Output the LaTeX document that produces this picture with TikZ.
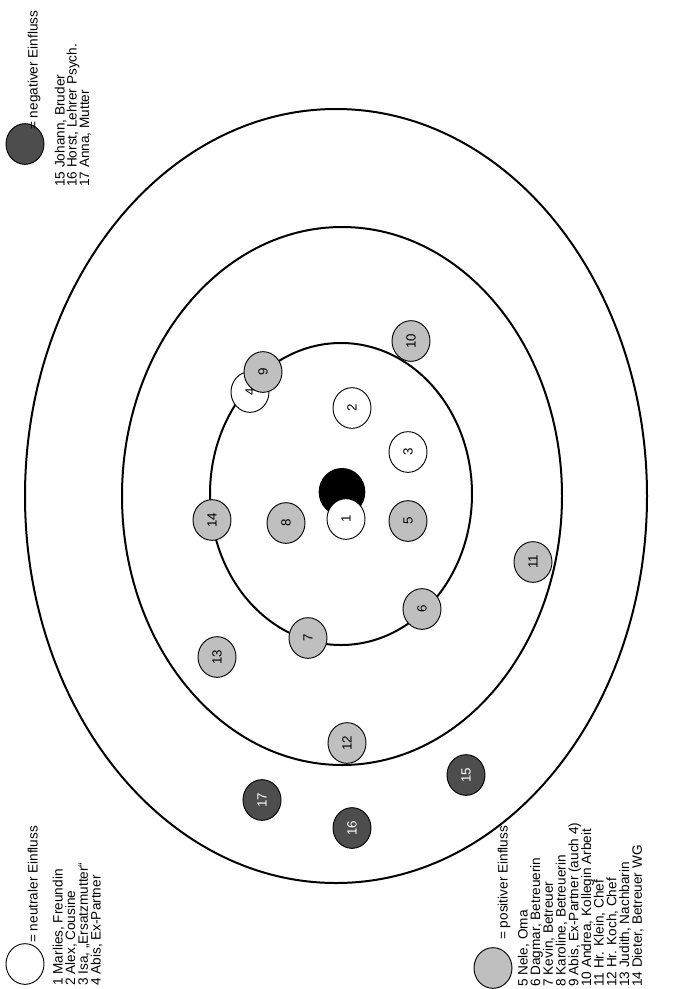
\documentclass[tikz,border=0pt]{standalone}
\usepackage{fontspec}
\setmainfont{Liberation Sans}
\usetikzlibrary{shapes.geometric}

\definecolor{posgray}{HTML}{BFBFBF}
\definecolor{neggray}{HTML}{4D4D4D}

\tikzset{
  person/.style={draw,ellipse,rotate=90,minimum width=30.5pt,minimum height=28.5pt,inner sep=0pt,line width=0.7pt,font=\fontsize{10}{12}\selectfont},
  neutral/.style={person,fill=white},
  positive/.style={person,fill=posgray},
  negative/.style={person,fill=neggray,text=white},
  ring/.style={line width=1.5pt},
  legtext/.style={rotate=90,anchor=base west,inner sep=0pt,font=\fontsize{10.2}{12}\selectfont}
}

\begin{document}
\begin{tikzpicture}[x=0.75pt,y=-0.75pt]
        \useasboundingbox (0,0) rectangle (673,989);
        % Kreise
        \draw[ring] (336,496) ellipse [x radius=311,y radius=387];
        \draw[ring] (342,496) ellipse [x radius=220,y radius=269];
        \draw[ring] (341,494) ellipse [x radius=131,y radius=151];
        % Ich
        \node[fill=black,ellipse,minimum width=35pt,minimum height=36pt,inner sep=0pt] (ego) at (342,492) {};
        % Personen
        \node[neutral] (p1) at (346,519) {1};
        \node[neutral] (p2) at (352,408) {2};
        \node[neutral] (p3) at (408,452) {3};
        \node[neutral] (p4) at (250,392) {4};
        \node[positive] (p5) at (408,521) {5};
        \node[positive] (p6) at (422,609) {6};
        \node[positive] (p7) at (308,638) {7};
        \node[positive] (p8) at (286,523) {8};
        \node[positive] (p9) at (263,372) {9};
        \node[positive] (p10) at (411,341) {10};
        \node[positive] (p11) at (533,562) {11};
        \node[positive] (p12) at (347,743) {12};
        \node[positive] (p13) at (217,657) {13};
        \node[positive] (p14) at (212,520) {14};
        \node[negative] (p15) at (466,775) {15};
        \node[negative] (p16) at (352,828) {16};
        \node[negative] (p17) at (262,800) {17};
        % Legende negativ
        \node[negative] (legneg) at (25,144) {};
        \node[legtext] (negtitle) at (37.5,130) {= negativer Einfluss};
        \node[legtext] (neg15) at (64.5,187) {15 Johann, Bruder};
        \node[legtext] (neg16) at (76.5,187) {16 Horst, Lehrer Psych.};
        \node[legtext] (neg17) at (89,187) {17 Anna, Mutter};
        % Legende neutral
        \node[neutral] (legneu) at (25,964) {};
        \node[legtext] (neutitle) at (37.5,943) {= neutraler Einfluss};
        \node[legtext] (neu1) at (62.5,986) {1 Marlies, Freundin};
        \node[legtext] (neu2) at (75.2,986) {2 Alex, Cousine};
        \node[legtext] (neu3) at (87.9,986) {3 Isa, „Ersatzmutter“};
        \node[legtext] (neu4) at (100.6,986) {4 Abis, Ex-Partner};
        % Legende positiv
        \node[positive] (legpos) at (493,968) {};
        \node[legtext] (postitle) at (507.5,940) {= positiver Einfluss};
        \node[legtext] (pos5) at (527.5,987) {5 Nele, Oma};
        \node[legtext] (pos6) at (540.2,987) {6 Dagmar, Betreuerin};
        \node[legtext] (pos7) at (552.9,987) {7 Kevin, Betreuer};
        \node[legtext] (pos8) at (565.6,987) {8 Karoline, Betreuerin};
        \node[legtext] (pos9) at (578.3,987) {9 Abis, Ex-Partner (auch 4)};
        \node[legtext] (pos10) at (591,987) {10 Andrea, Kollegin Arbeit};
        \node[legtext] (pos11) at (603.7,987) {11 Hr. Klein, Chef};
        \node[legtext] (pos12) at (616.4,987) {12 Hr. Koch, Chef};
        \node[legtext] (pos13) at (629.1,987) {13 Judith, Nachbarin};
        \node[legtext] (pos14) at (641.8,987) {14 Dieter, Betreuer WG};
    \end{tikzpicture}
\end{document}
